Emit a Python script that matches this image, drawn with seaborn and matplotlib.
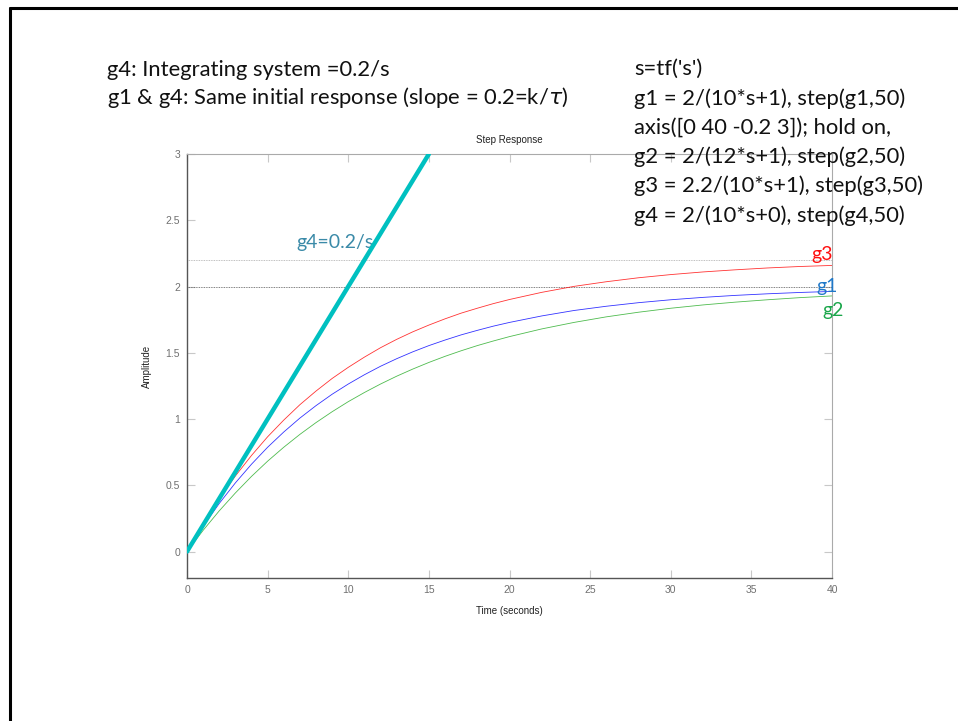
"""Step responses of four first-order / integrating systems (MATLAB-style slide)."""

import matplotlib.pyplot as plt
from matplotlib.lines import Line2D
import seaborn as sns

# time samples (s)
t = [0, 1, 2, 3, 4, 5, 6, 7, 8, 9, 10, 11, 12, 13, 14, 15, 16, 17, 18, 19, 20,
     22, 24, 26, 28, 30, 32, 34, 36, 38, 40]
g1 = [0, 0.190, 0.363, 0.518, 0.659, 0.787, 0.902, 1.007, 1.101, 1.187, 1.264,
      1.334, 1.398, 1.455, 1.507, 1.554, 1.596, 1.635, 1.669, 1.701, 1.729,
      1.778, 1.819, 1.851, 1.878, 1.900, 1.918, 1.933, 1.945, 1.955, 1.963]
g2 = [0, 0.160, 0.307, 0.442, 0.567, 0.682, 0.787, 0.884, 0.973, 1.055, 1.131,
      1.200, 1.264, 1.323, 1.377, 1.427, 1.473, 1.515, 1.554, 1.589, 1.622,
      1.680, 1.729, 1.771, 1.806, 1.836, 1.861, 1.882, 1.900, 1.916, 1.929]
g3 = [0, 0.209, 0.399, 0.570, 0.725, 0.866, 0.992, 1.108, 1.211, 1.306, 1.390,
      1.467, 1.538, 1.601, 1.658, 1.709, 1.756, 1.799, 1.836, 1.871, 1.902,
      1.956, 2.001, 2.036, 2.066, 2.090, 2.110, 2.126, 2.140, 2.151, 2.159]
t4 = [0, 15]
g4 = [0, 3.0]
final_values = [2.0, 2.2]
final_colors = ["#555555", "#aaaaaa"]

left_text = ["g4: Integrating system =0.2/s",
             r"g1 & g4: Same initial response (slope = 0.2=k/$\tau$)"]
code_text = ["s=tf('s')",
             "g1 = 2/(10*s+1), step(g1,50)",
             "axis([0 40 -0.2 3]); hold on,",
             "g2 = 2/(12*s+1), step(g2,50)",
             "g3 = 2.2/(10*s+1), step(g3,50)",
             "g4 = 2/(10*s+0), step(g4,50)"]

sns.set_theme(style="white")
plt.rcParams["font.family"] = ["Liberation Sans", "DejaVu Sans"]

fig = plt.figure(figsize=(9.58, 7.21), dpi=100)
ax = fig.add_axes([0.1952, 0.1983, 0.6733, 0.5881])

for y, c in zip(final_values, final_colors):
    ax.axhline(y, color=c, lw=0.6, ls=(0, (1, 1)), zorder=1)

sns.lineplot(x=t, y=g3, ax=ax, color="#ff0000", lw=0.6, alpha=0.8)
sns.lineplot(x=t, y=g1, ax=ax, color="#0000ff", lw=0.6, alpha=0.8)
sns.lineplot(x=t, y=g2, ax=ax, color="#22aa22", lw=0.6, alpha=0.8)
sns.lineplot(x=t4, y=g4, ax=ax, color="#00c0c0", lw=3.2, zorder=5)

ax.set_xlim(0, 40)
ax.set_ylim(-0.2, 3)
ax.set_xticks(range(0, 41, 5))
ax.set_yticks([0, 0.5, 1, 1.5, 2, 2.5, 3])
ax.set_yticklabels(["0", "0.5", "1", "1.5", "2", "2.5", "3"])
ax.tick_params(direction="in", length=6, width=0.8, color="#c8c8c8",
               labelsize=7.5, labelcolor="#707070", top=True, right=True,
               bottom=True, left=True, pad=5)
for side in ["left", "bottom"]:
    ax.spines[side].set_color("#555555")
    ax.spines[side].set_linewidth(1.0)
for side in ["top", "right"]:
    ax.spines[side].set_color("#aaaaaa")
    ax.spines[side].set_linewidth(0.8)

ax.set_title("Step Response", fontsize=7, color="#222222", pad=8)
ax.set_xlabel("Time (seconds)", fontsize=7, color="#222222", labelpad=8)
ax.set_ylabel("Amplitude", fontsize=7, color="#222222", labelpad=10)

# curve labels
ax.text(6.8, 2.29, "g4=0.2/s", color="#3a8aa8", fontsize=14, family="Lato")
ax.text(38.7, 2.2, "g3", color="#ff1010", fontsize=14, family="Lato")
ax.text(39.0, 1.96, "g1", color="#1f78c8", fontsize=14, family="Lato")
ax.text(39.4, 1.78, "g2", color="#1aa64a", fontsize=14, family="Lato")

# slide text
for i, line in enumerate(left_text):
    fig.text(107 / 958, 1 - (70 + 27 * i) / 721, line, fontsize=15.8,
             family=["Lato", "DejaVu Sans"], va="center", color="#111111")
for i, line in enumerate(code_text):
    fig.text(634 / 958, 1 - (69 + 29.3 * i) / 721, line, fontsize=15.8,
             family="Lato", va="center", color="#111111")

# slide frame
fig.add_artist(Line2D([10 / 958, 10 / 958], [0, 1 - 8 / 721],
                      transform=fig.transFigure, color="black", lw=2.2))
fig.add_artist(Line2D([10 / 958, 1], [1 - 8 / 721, 1 - 8 / 721],
                      transform=fig.transFigure, color="black", lw=2.2))

fig.savefig("out.png", dpi=100)
